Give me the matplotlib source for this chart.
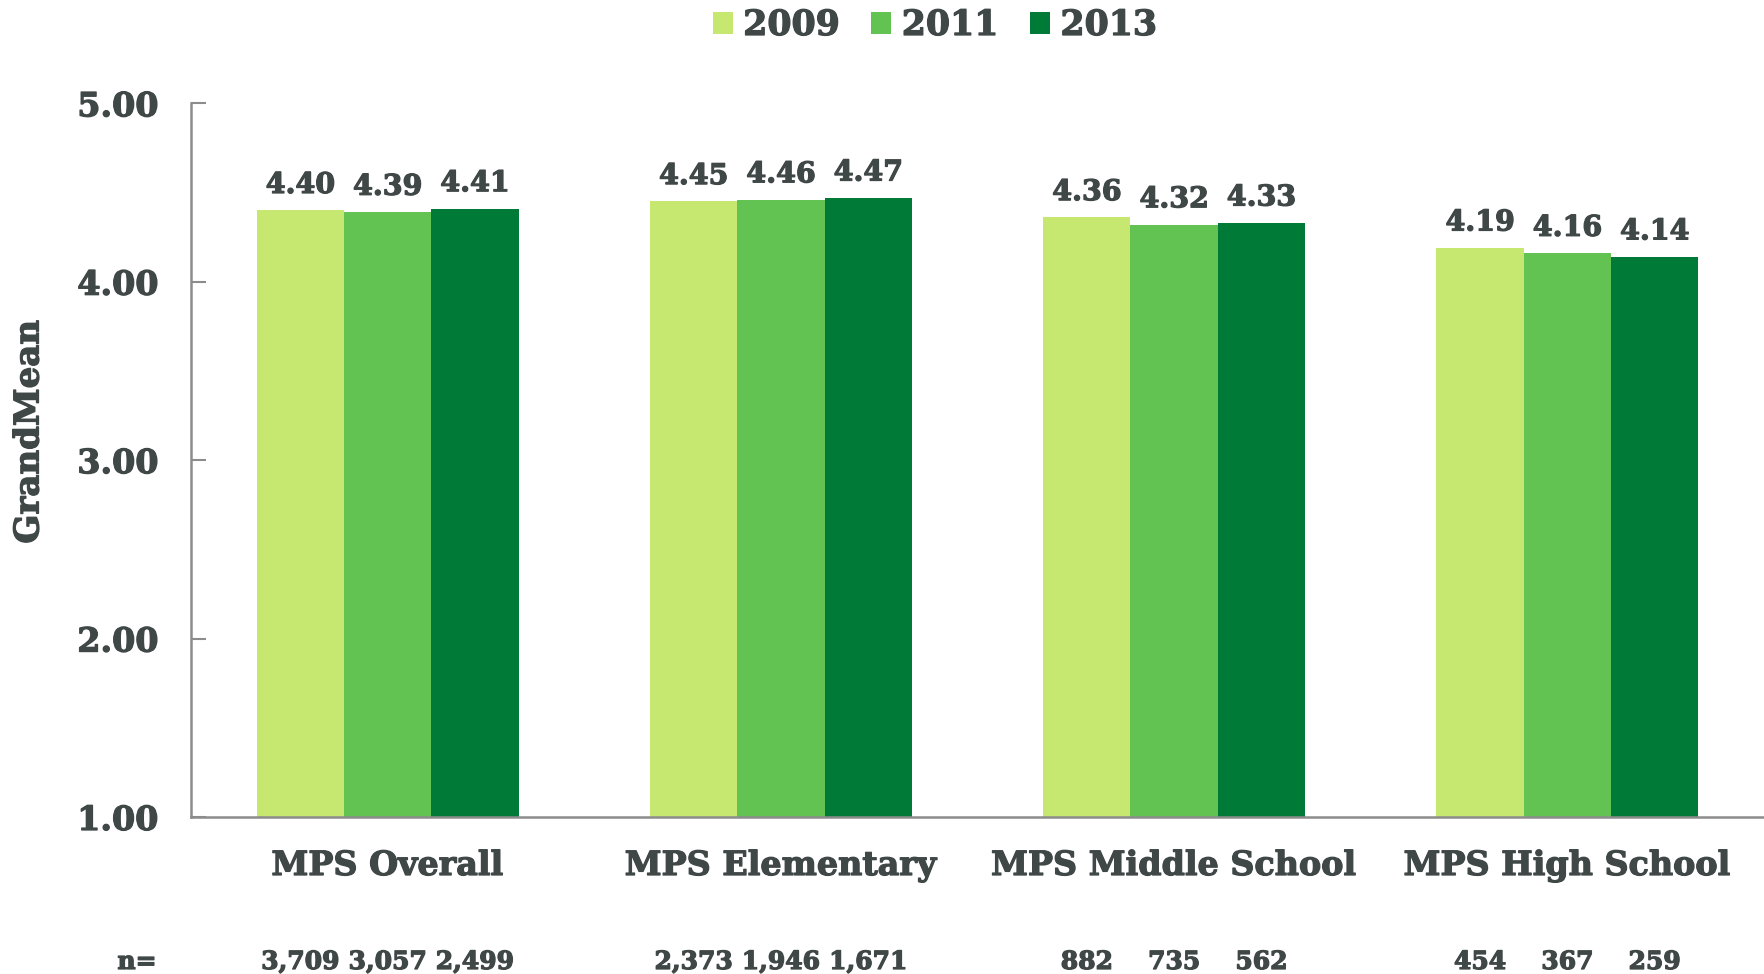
"""Grand mean by school level, 2009 / 2011 / 2013 survey waves."""

import numpy as np
import matplotlib

matplotlib.use("Agg")
import matplotlib.pyplot as plt
import matplotlib.patheffects as pe
from matplotlib.patches import Patch
from matplotlib.transforms import blended_transform_factory

categories = ["MPS Overall", "MPS Elementary", "MPS Middle School", "MPS High School"]
years = ["2009", "2011", "2013"]
means_2009 = [4.40, 4.45, 4.36, 4.19]
means_2011 = [4.39, 4.46, 4.32, 4.16]
means_2013 = [4.41, 4.47, 4.33, 4.14]
n_2009 = ["3,709", "2,373", "882", "454"]
n_2011 = ["3,057", "1,946", "735", "367"]
n_2013 = ["2,499", "1,671", "562", "259"]

colors = ["#c6e770", "#62c352", "#007b37"]
TEXT = "#404747"
SPINE = "#8c8c8c"
# a thin outline in the text colour makes DejaVu Serif Bold read as heavy as the original face
HEAVY = [pe.withStroke(linewidth=0.9, foreground=TEXT)]

plt.rcParams["font.family"] = ["DejaVu Serif"]
plt.rcParams["font.weight"] = "bold"

fig = plt.figure(figsize=(17.64, 9.74), dpi=100)
ax = fig.add_axes([191 / 1764, 1 - 817 / 974, 1 - 191 / 1764, (817 - 103.3) / 974])

x = np.arange(len(categories))
w = 0.222
series = [means_2009, means_2011, means_2013]
counts = [n_2009, n_2011, n_2013]
trans_n = blended_transform_factory(ax.transData, fig.transFigure)

for i, (vals, col, ns) in enumerate(zip(series, colors, counts)):
    pos = x + (i - 1) * w
    bars = ax.bar(pos, vals, width=w, bottom=0, color=col, zorder=2)
    for b, v in zip(bars, vals):
        ax.annotate(f"{v:.2f}", (b.get_x() + b.get_width() / 2, v),
                    xytext=(0, 12.5), textcoords="offset points",
                    ha="center", va="baseline", fontsize=20.5,
                    fontweight="bold", color=TEXT, path_effects=HEAVY)
    for p, s in zip(pos, ns):
        ax.text(p, 1 - 969 / 974, s, transform=trans_n, ha="center",
                va="baseline", fontsize=18, fontweight="bold", color=TEXT,
                path_effects=HEAVY)

ax.text(137 / 1764, 1 - 969 / 974, "n=", transform=fig.transFigure,
        ha="center", va="baseline", fontsize=18, fontweight="bold", color=TEXT,
        path_effects=HEAVY)

for xi, cat in zip(x, categories):
    ax.text(xi, 1 - 875 / 974, cat, transform=trans_n, ha="center",
            va="baseline", fontsize=24, fontweight="bold", color=TEXT,
            path_effects=HEAVY)

ax.set_ylim(1, 5)
ax.set_xlim(-0.5, len(categories) - 0.5)
ax.set_yticks([1, 2, 3, 4, 5])
ax.set_yticklabels([f"{t:.2f}" for t in [1, 2, 3, 4, 5]])
ax.set_xticks([])
ax.tick_params(axis="y", direction="in", length=11, width=1.5, color=SPINE,
               labelsize=24, labelcolor=TEXT, pad=23)
for lab in ax.get_yticklabels():
    lab.set_fontweight("bold")
    lab.set_path_effects(HEAVY)

for side in ["top", "right"]:
    ax.spines[side].set_visible(False)
for side in ["left", "bottom"]:
    ax.spines[side].set_color(SPINE)
    ax.spines[side].set_linewidth(1.8)

fig.text(29 / 1764, 1 - 432 / 974, "GrandMean", rotation=90, ha="center",
         va="center", fontsize=24.5, fontweight="bold", color=TEXT,
         path_effects=HEAVY)

handles = [Patch(facecolor=c, edgecolor="none") for c in colors]
leg = fig.legend(handles, years, loc="center", bbox_to_anchor=(0.530, 1 - 25 / 974),
                 ncol=3, frameon=False, handlelength=0.58, handleheight=0.58,
                 handletextpad=0.3, columnspacing=0.9,
                 prop={"size": 25, "weight": "bold"}, labelcolor=TEXT)
for t in leg.get_texts():
    t.set_path_effects(HEAVY)

fig.savefig("out.png", dpi=100, facecolor="white")
